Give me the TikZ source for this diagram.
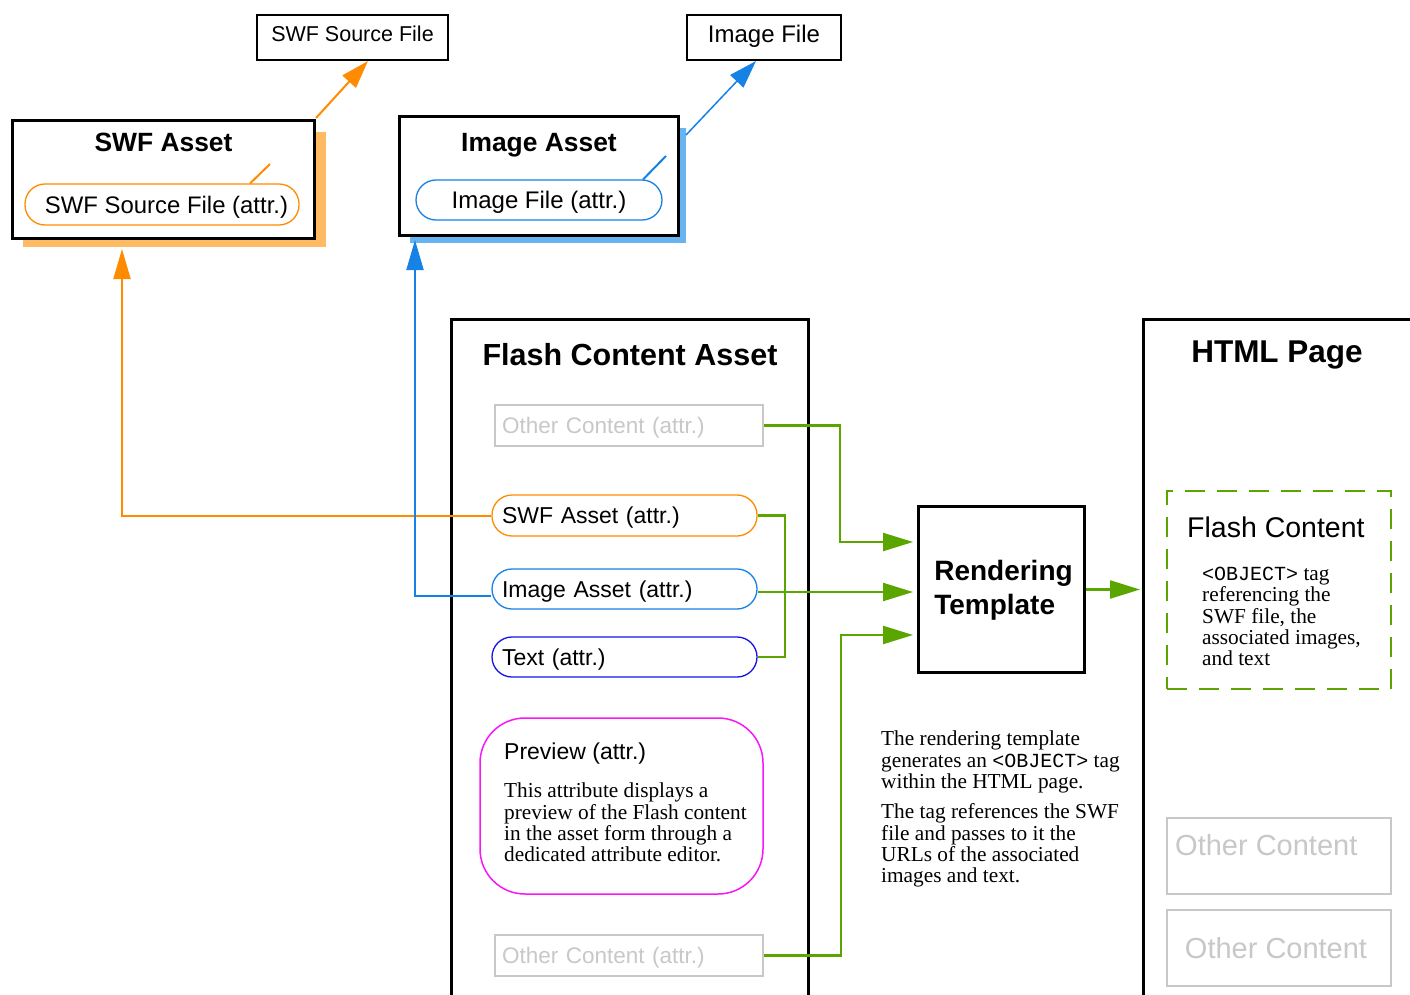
\documentclass[tikz,border=0pt]{standalone}
\usepackage{fontspec}
\setmainfont{Liberation Serif}
\setsansfont{Liberation Sans}
\setmonofont{Liberation Mono}
\usetikzlibrary{arrows.meta}
\definecolor{cOrange}{RGB}{255,140,0}
\definecolor{cOrShadow}{RGB}{255,186,100}
\definecolor{cBlue}{RGB}{22,130,230}
\definecolor{cBlShadow}{RGB}{104,180,240}
\definecolor{cDeepBlue}{RGB}{20,20,230}
\definecolor{cGreen}{RGB}{90,165,0}
\definecolor{cGray}{RGB}{200,200,200}
\definecolor{cMagenta}{RGB}{250,20,250}
\tikzset{
  filebox/.style={draw=black, line width=2pt, fill=white, inner sep=0pt, text depth=8pt,
    font=\sffamily\fontsize{21.5}{24}\selectfont},
  assetbox/.style={draw=black, line width=3pt, fill=white, inner sep=0pt},
  titletext/.style={inner sep=0pt, anchor=base, font=\sffamily\bfseries\fontsize{26.4}{30}\selectfont},
  bigtitle/.style={inner sep=0pt, font=\sffamily\bfseries\fontsize{30.5}{34}\selectfont},
  pill/.style={draw, line width=1.3pt, rounded corners=20pt, fill=white, text depth=0pt,
    inner ysep=0pt, font=\sffamily\fontsize{23}{26}\selectfont},
  leftpill/.style={pill, inner xsep=10pt, text width=245pt, align=left, minimum height=40pt},
  otherattr/.style={draw=cGray, line width=2pt, text=cGray, inner ysep=0pt, inner xsep=7pt, text depth=0pt,
    text width=254pt, align=left, minimum height=41pt, font=\sffamily\fontsize{22.5}{26}\selectfont},
  otherbox/.style={draw=cGray, line width=2pt, text=cGray, inner sep=0pt,
    minimum width=224pt, minimum height=76pt},
  othertext/.style={text=cGray, inner sep=0pt, font=\sffamily\fontsize{29}{32}\selectfont},
  serifbody/.style={inner sep=0pt, align=left, font=\rmfamily\fontsize{21.3}{21.3}\selectfont},
  gline/.style={draw=cGreen, line width=2.2pt},
  garrow/.style={gline, -{Triangle[length=30pt,width=18pt]}},
}
\newcommand{\objtag}{{\ttfamily\fontsize{20}{21.3}\selectfont <OBJECT>}}
\begin{document}
\begin{tikzpicture}[x=1pt,y=-1pt]
\useasboundingbox (0,0) rectangle (1410,995);
\fill[white] (0,0) rectangle (1410,995);

% ---------- top file boxes ----------
\node[filebox, minimum width=191pt, minimum height=45pt] (swffile) at (352.5,37.5) {SWF Source File};
\node[filebox, minimum width=154pt, minimum height=45pt, font=\sffamily\fontsize{24}{26}\selectfont] (imgfile) at (764,37.5) {Image File};

% ---------- SWF Asset ----------
\fill[cOrShadow] (23,132) rectangle (326,247);
\node[assetbox, minimum width=302pt, minimum height=118pt] (swfasset) at (163.5,179.5) {};
\node[titletext] (swfassetT) at (163.5,151.5) {SWF Asset};
\node[pill, draw=cOrange, minimum width=274pt, minimum height=41pt, font=\sffamily\fontsize{23.9}{26}\selectfont] (swfsrcattr) at (162,204.5) {\hspace*{9pt}SWF Source File (attr.)};

% ---------- Image Asset ----------
\fill[cBlShadow] (410,128) rectangle (686,243);
\node[assetbox, minimum width=279pt, minimum height=119pt] (imgasset) at (539,176) {};
\node[titletext] (imgassetT) at (539,151.5) {Image Asset};
\node[pill, draw=cBlue, minimum width=246pt, minimum height=40pt, font=\sffamily\fontsize{24}{26}\selectfont] (imgfileattr) at (539,200) {Image File (attr.)};

% diagonal links
\coordinate (swfstubA) at (250,183.5);
\coordinate (swfstubB) at (270,164);
\coordinate (swfarrA) at (316,118);
\draw[cOrange, line width=2pt] (swfstubA) -- (swfstubB);
\draw[cOrange, line width=2pt, -{Triangle[length=28pt,width=18pt]}] (swfarrA) -- (swffile.south -| 368,0);
\coordinate (imgstubA) at (643,179.5);
\coordinate (imgstubB) at (666,156);
\coordinate (imgarrA) at (686,135);
\draw[cBlue, line width=2pt] (imgstubA) -- (imgstubB);
\draw[cBlue, line width=1.5pt, -{Triangle[length=28pt,width=18pt]}] (imgarrA) -- (imgfile.south -| 756,0);

% ---------- Flash Content Asset ----------
\draw[line width=3pt] (451.5,1000) -- (451.5,319.5) coordinate (fcaTL) -- (808.5,319.5) -- (808.5,1000);
\node[bigtitle] (fcaT) at (630,355) {Flash Content Asset};
\node[otherattr] (oc1) at (629,425.5) {Other Content (attr.)};
\node[leftpill, draw=cOrange, minimum height=41pt] (swfattr) at (624.5,515.5) {SWF Asset (attr.)};
\node[leftpill, draw=cBlue] (imgattr) at (624.5,589) {Image Asset (attr.)};
\node[leftpill, draw=cDeepBlue] (textattr) at (624.5,657) {Text (attr.)};
\node[draw=cMagenta, line width=1.5pt, rounded corners=45pt, minimum width=283pt, minimum height=176pt] (preview) at (621.5,806) {};
\node[inner sep=0pt, anchor=base west, font=\sffamily\fontsize{23}{26}\selectfont] (previewT) at (504,759) {Preview (attr.)};
\node[serifbody, anchor=north west] (previewB) at (504,783) {This attribute displays a\\preview of the Flash content\\in the asset form through a\\dedicated attribute editor.};
\node[otherattr] (oc2) at (629,955.5) {Other Content (attr.)};

% ---------- Rendering Template ----------
\node[assetbox, minimum width=166pt, minimum height=166pt] (rt) at (1001.5,589.5) {};
\node[inner sep=0pt, align=left, font=\sffamily\bfseries\fontsize{28}{34}\selectfont] (rtT) at (1003.5,590) {Rendering\\Template};
\node[serifbody, anchor=north west] (rtdesc) at (881,731) {The rendering template\\generates an \objtag{} tag\\within the HTML page.\\[9pt]The tag references the SWF\\file and passes to it the\\URLs of the associated\\images and text.};

% ---------- HTML Page ----------
\draw[line width=3pt] (1143.5,1000) -- (1143.5,319.5) coordinate (htmlTL) -- (1415,319.5);
\node[inner sep=0pt, anchor=base, font=\sffamily\bfseries\fontsize{31.5}{35}\selectfont] (htmlT) at (1277,362) {HTML Page};
\node[draw=cGreen, line width=2pt, dash pattern=on 20pt off 12pt, minimum width=224pt, minimum height=198pt] (fc) at (1279,590) {};
\node[inner sep=0pt, anchor=west, font=\sffamily\fontsize{28.5}{32}\selectfont] (fcT) at (1187,527) {Flash Content};
\node[serifbody, anchor=north west] (fcB) at (1202,567) {\objtag{} tag\\referencing the\\SWF file, the\\associated images,\\and text};
\node[otherbox] (hoc1) at (1279,856) {};
\node[othertext, anchor=west] (hoc1T) at (1175,845) {Other Content};
\node[otherbox] (hoc2) at (1279,948) {};
\node[othertext] (hoc2T) at (1276,948) {Other Content};

% ---------- connectors ----------
\coordinate (swfin) at (122,249);
\coordinate (imgin) at (415,240);
\draw[cOrange, line width=2pt, -{Triangle[length=30pt,width=17pt]}] (swfattr.west) -| (swfin);
\draw[cBlue, line width=2pt, -{Triangle[length=30pt,width=17pt]}] ([yshift=-7pt]imgattr.west) -| (imgin);

\coordinate (rtA) at (913,542);
\coordinate (rtB) at (913,592);
\coordinate (rtC) at (913,635);
\coordinate (htmlin) at (1140,589.5);
\draw[garrow] (oc1.east) -- (840,425.5) |- (rtA);
\draw[gline] (swfattr.east) -- (785,515.5) |- (textattr.east);
\draw[garrow] ([yshift=-3pt]imgattr.east) -- (rtB);
\draw[garrow] (oc2.east) -- (841,955.5) |- (rtC);
\draw[garrow] (rt.east) -- (htmlin);
\end{tikzpicture}
\end{document}
